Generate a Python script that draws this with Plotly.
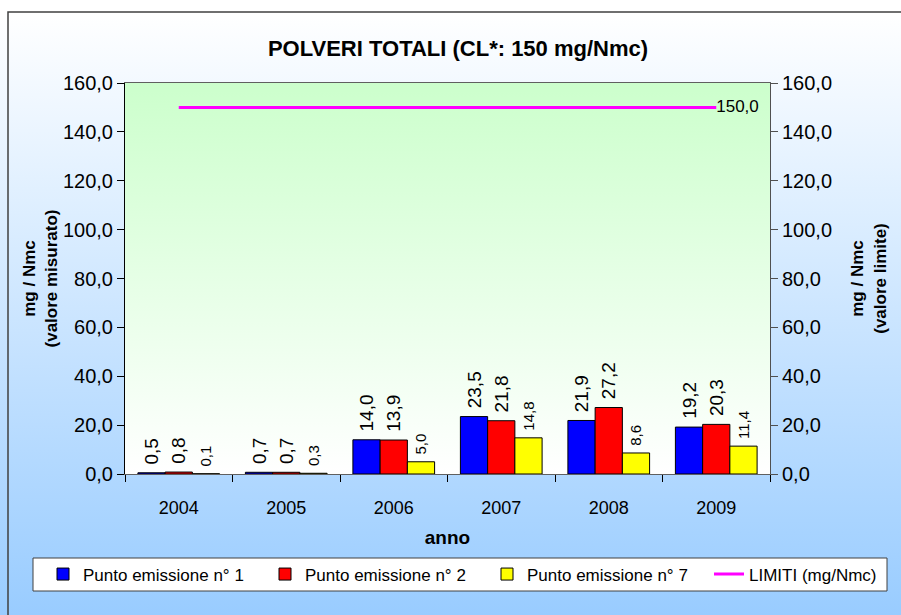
import base64
import plotly.graph_objects as go

years = ["2004", "2005", "2006", "2007", "2008", "2009"]
punto1 = [0.5, 0.7, 14.0, 23.5, 21.9, 19.2]
punto2 = [0.8, 0.7, 13.9, 21.8, 27.2, 20.3]
punto7 = [0.1, 0.3, 5.0, 14.8, 8.6, 11.4]
limiti = [150.0, 150.0, 150.0, 150.0, 150.0, 150.0]
ytick_vals = [0, 20, 40, 60, 80, 100, 120, 140, 160]

FONT = "Liberation Sans, Arial, sans-serif"

# plot area pixel geometry (901x615 canvas)
L, R, T, B = 125, 770, 83, 474
PW, PH = R - L, B - T


def px_x(px):
    return (px - L) / PW


def px_y(py):
    return (B - py) / PH


def grad(top, bottom):
    svg = ('<svg xmlns="http://www.w3.org/2000/svg" width="100" height="100" preserveAspectRatio="none">'
           '<defs><linearGradient id="g" x1="0" y1="0" x2="0" y2="1">'
           f'<stop offset="0" stop-color="{top}"/><stop offset="1" stop-color="{bottom}"/>'
           '</linearGradient></defs><rect width="100" height="100" fill="url(#g)"/></svg>')
    return "data:image/svg+xml;base64," + base64.b64encode(svg.encode()).decode()


def lab(vals):
    return [f"{v:.1f}".replace(".", ",") for v in vals]


fig = go.Figure()
series = [("Punto emissione n° 1", punto1, "#0000FF", 19, "legend"),
          ("Punto emissione n° 2", punto2, "#FF0000", 19, "legend"),
          ("Punto emissione n° 7", punto7, "#FFFF00", 15, "legend2")]
for name, vals, col, fs, lg in series:
    fig.add_trace(go.Bar(
        x=years, y=vals, name=name, legend=lg,
        marker=dict(color=col, line=dict(color="#000000", width=1)),
        text=["\u00a0" + t for t in lab(vals)], textposition="outside", textangle=-90,
        textfont=dict(family=FONT, size=fs, color="#000000"),
        cliponaxis=False, constraintext="none",
    ))

fig.add_trace(go.Scatter(
    x=years, y=limiti, name="LIMITI (mg/Nmc)", mode="lines+text", legend="legend3",
    line=dict(color="#FF00FF", width=3),
    text=["", "", "", "", "", lab(limiti)[-1]],
    textposition="middle right",
    textfont=dict(family=FONT, size=17, color="#000000"),
    yaxis="y2", cliponaxis=False,
))

tick_text = lab(ytick_vals)

leg_common = dict(
    orientation="h", xanchor="left",
    y=px_y(574.5), yanchor="middle",
    bgcolor="rgba(0,0,0,0)", borderwidth=0,
    font=dict(family=FONT, size=17),
    traceorder="normal",
)

fig.update_layout(
    width=901, height=615,
    margin=dict(l=L, r=901 - R, t=T, b=615 - B, autoexpand=False),
    paper_bgcolor="#FFFFFF",
    plot_bgcolor="rgba(0,0,0,0)",
    font=dict(family=FONT, size=17, color="#000000"),
    barmode="group", bargap=0.24, bargroupgap=0,
    showlegend=True,
    title=dict(text="<b>POLVERI TOTALI (CL*: 150 mg/Nmc)</b>",
               x=458 / 901, xref="container", xanchor="center",
               y=1 - 48 / 615, yref="container", yanchor="middle",
               font=dict(family=FONT, size=22, color="#000000")),
    xaxis=dict(
        type="category", showline=True, linecolor="#606060", linewidth=1,
        mirror=True, ticks="outside", ticklen=7, tickcolor="#000000",
        tickson="boundaries", showgrid=False, zeroline=False, automargin=False,
        ticklabelstandoff=17,
        tickfont=dict(family=FONT, size=18),
        title=dict(text="<b>anno</b>", font=dict(family=FONT, size=19), standoff=14),
    ),
    yaxis=dict(
        range=[0, 160], tickvals=ytick_vals, ticktext=tick_text,
        showline=True, linecolor="#000000", linewidth=1,
        ticks="outside", ticklen=7, tickcolor="#000000",
        showgrid=False, zeroline=False, automargin=False,
        tickfont=dict(family=FONT, size=20),
        title=dict(text="<b>mg / Nmc<br>(valore misurato)</b>",
                   font=dict(family=FONT, size=17), standoff=0),
    ),
    yaxis2=dict(
        range=[0, 160], tickvals=ytick_vals, ticktext=tick_text,
        overlaying="y", side="right",
        showline=True, linecolor="#505050", linewidth=1,
        ticks="outside", ticklen=7, tickcolor="#505050",
        showgrid=False, zeroline=False, automargin=False,
        tickfont=dict(family=FONT, size=20),
        title=dict(text="<b>mg / Nmc<br>(valore limite)</b>",
                   font=dict(family=FONT, size=17), standoff=20),
    ),
    legend=dict(x=px_x(43), entrywidth=177, entrywidthmode="pixels", **leg_common),
    legend2=dict(x=px_x(43 + 2 * 222), **leg_common),
    legend3=dict(x=px_x(43 + 3 * 222), **leg_common),
    images=[
        dict(source=grad("#FFFFFF", "#99CCFF"), xref="paper", yref="paper",
             x=px_x(0), y=px_y(12), sizex=901 / PW, sizey=(615 - 12) / PH,
             xanchor="left", yanchor="top", sizing="stretch", layer="below"),
        dict(source=grad("#CCFFCC", "#FFFFFF"), xref="paper", yref="paper",
             x=0, y=1, sizex=1, sizey=1,
             xanchor="left", yanchor="top", sizing="stretch", layer="below"),
    ],
    shapes=[
        dict(type="rect", xref="paper", yref="paper",
             x0=px_x(8), x1=px_x(903), y0=px_y(618), y1=px_y(12),
             line=dict(color="#404040", width=1.5), fillcolor="rgba(0,0,0,0)",
             layer="above"),
        dict(type="rect", xref="paper", yref="paper",
             x0=px_x(33), x1=px_x(887), y0=px_y(591), y1=px_y(558),
             line=dict(color="#404040", width=1), fillcolor="#FFFFFF",
             layer="above"),
    ],
)

fig.write_html("out.html", config={"displayModeBar": False},
               post_script="document.body.style.margin='0px';document.body.style.overflow='hidden';")
